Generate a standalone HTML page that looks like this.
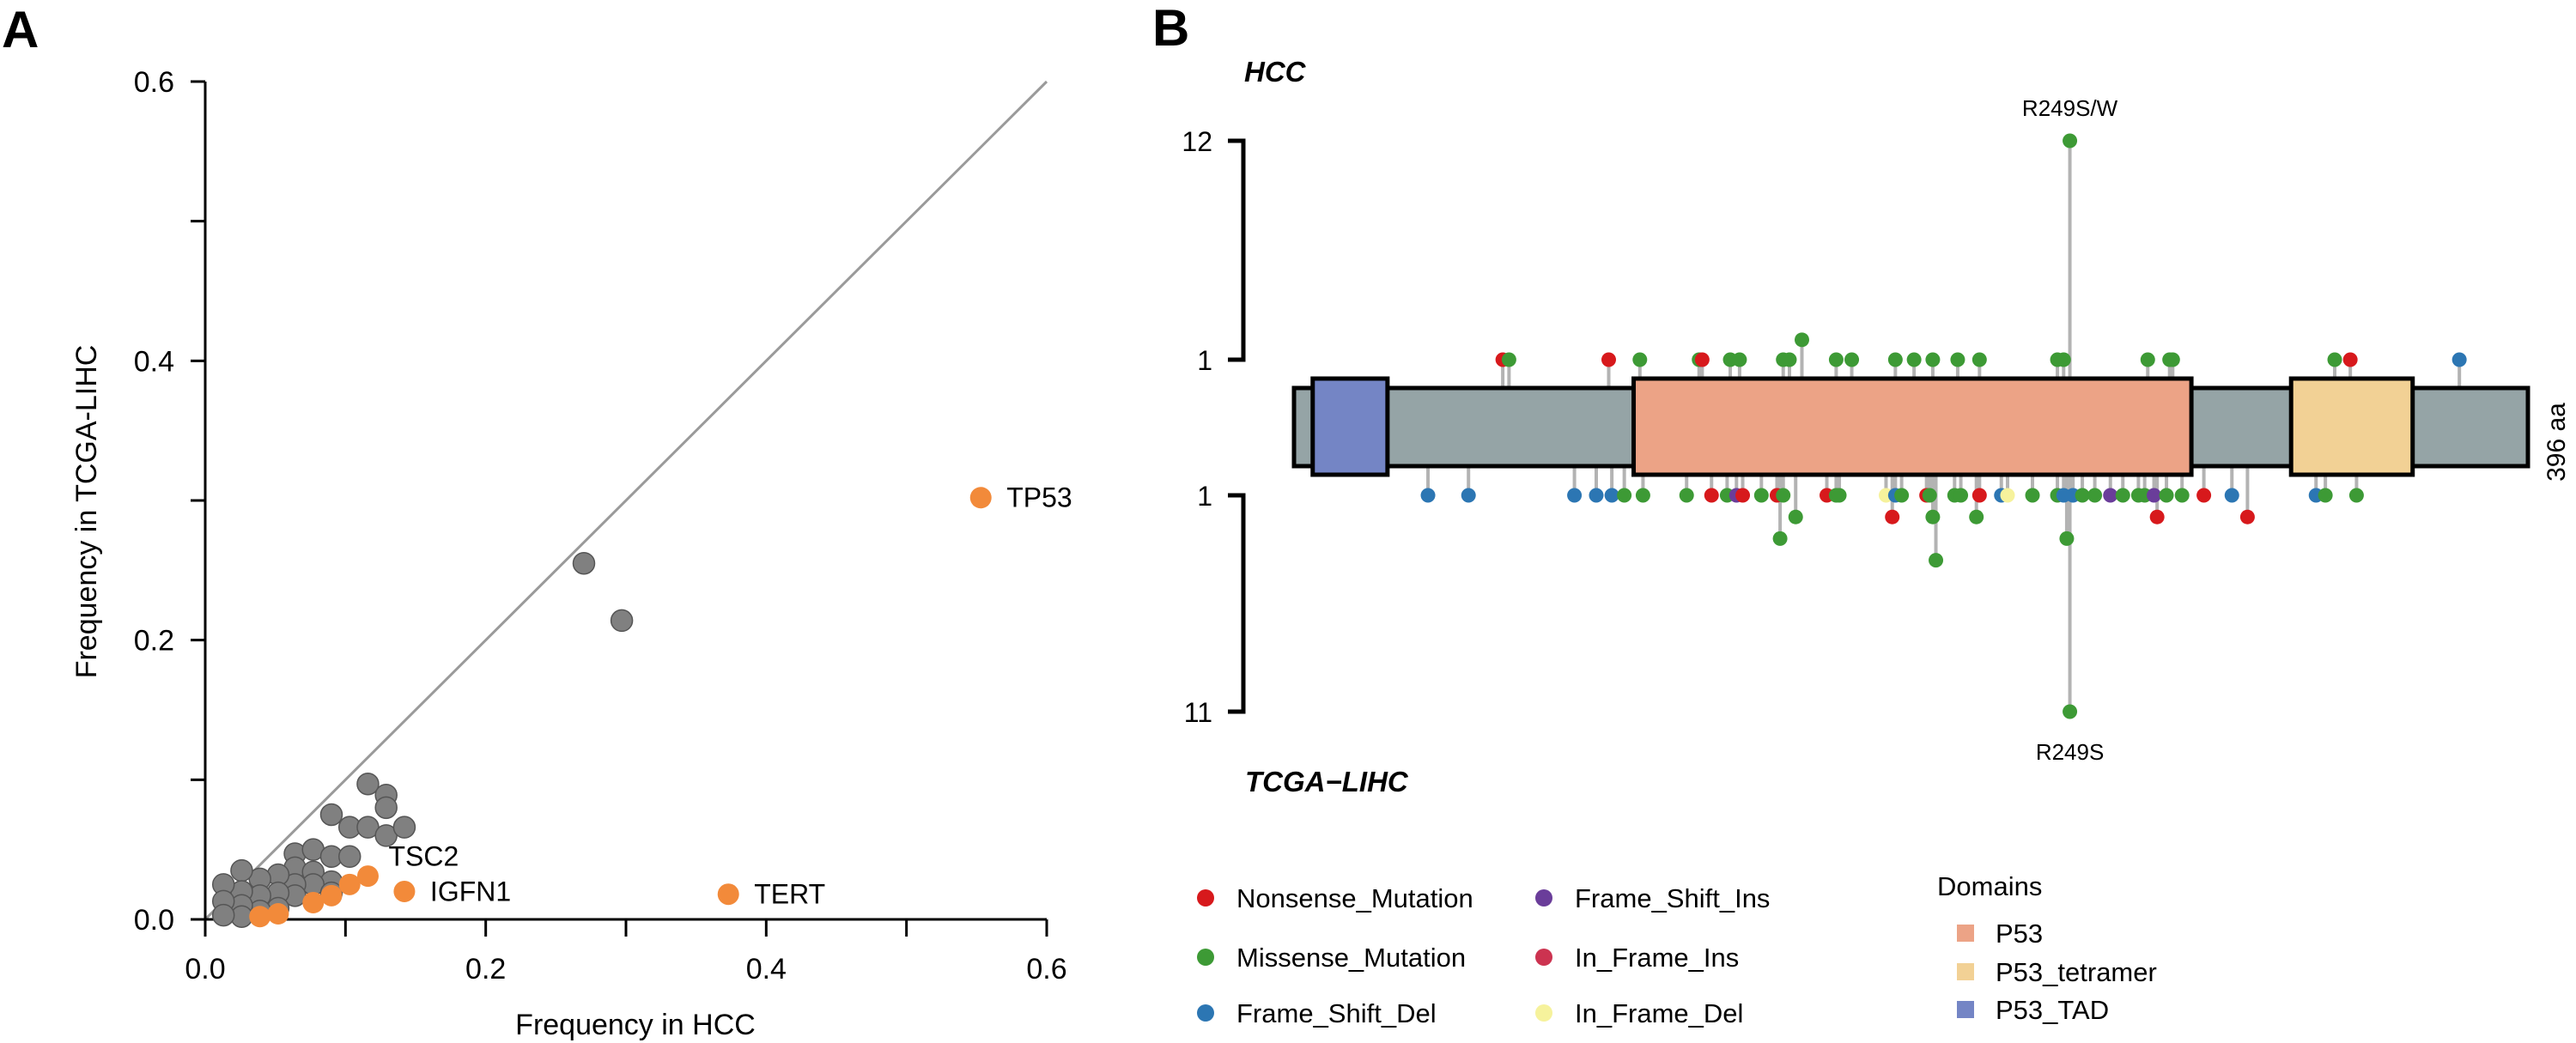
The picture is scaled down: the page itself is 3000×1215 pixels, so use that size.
<!DOCTYPE html>
<html><head><meta charset="utf-8">
<style>
html,body{margin:0;padding:0;background:#fff;}
svg{display:block;font-family:"Liberation Sans",Arial,sans-serif;}
</style></head>
<body>
<svg id="fig" width="3000" height="1215" viewBox="0 0 3000 1215" xmlns="http://www.w3.org/2000/svg">
<text x="2" y="55" font-size="60" font-weight="bold">A</text>
<text x="1342" y="53" font-size="60" font-weight="bold">B</text>
<g id="pa"></g>
<g id="pb"></g>
<g id="leg"></g>
</svg>
<script>
// ---------- Panel A data ----------
const grayX = [0.27,0.297,0.116,0.129,0.129,0.09,0.103,0.116,0.129,0.142,0.064,0.077,0.09,0.103,0.064,0.077,0.09,0.077,0.064,0.064,0.052,0.052,0.052,0.039,0.039,0.039,0.026,0.026,0.026,0.026,0.013,0.013,0.013,0.09];
const grayY = [0.255,0.214,0.097,0.089,0.08,0.075,0.066,0.066,0.06,0.066,0.047,0.05,0.045,0.045,0.037,0.034,0.027,0.025,0.025,0.017,0.032,0.019,0.008,0.029,0.017,0.006,0.035,0.02,0.01,0.002,0.025,0.013,0.003,0.019];
const orangeX = [0.553,0.373,0.142,0.116,0.103,0.09,0.077,0.052,0.039];
const orangeY = [0.302,0.018,0.02,0.031,0.025,0.017,0.012,0.004,0.002];
const orangeNames = ["TP53","TERT","IGFN1","TSC2","","","","",""];
const aTicks = [0,0.2,0.4,0.6];
const aTickLabels = ["0.0","0.2","0.4","0.6"];
const aMinor = [0.1,0.3,0.5];

// ---------- Panel B data ----------
const topPos   = [67,69,101,111,130,131,140,143,157,159,163,174,179,193,199,205,213,220,245,247,249,274,281,282,334,339,374];
const topCount = [1,1,1,1,1,1,1,1,1,1,2,1,1,1,1,1,1,1,1,1,12,1,1,1,1,1,1];
const topType  = ["N","M","N","M","M","N","M","M","M","M","M","M","M","M","M","M","M","M","M","M","M","M","M","M","M","N","D"];
const botPos   = [43,56,90,97,102,106,112,126,134,139,142,144,150,155,157,171,174,175,190,193,195,203,204,212,214,220,227,229,237,245,247,250,253,257,262,266,271,273,276,280,285,292,301,328,331,341,161,192,205,219,277,306,156,248,206,249];
const botCount = [1,1,1,1,1,1,1,1,1,1,1,1,1,1,1,1,1,1,1,1,1,1,1,1,1,1,1,1,1,1,1,1,1,1,1,1,1,1,1,1,1,1,1,1,1,1,2,2,2,2,2,2,3,3,4,11];
const botType  = ["D","D","D","D","D","M","M","M","N","M","P","N","M","N","M","N","M","M","Y","D","M","N","M","M","M","N","D","Y","M","M","D","D","M","M","P","M","M","M","P","M","M","N","D","D","M","M","M","N","M","M","N","N","M","M","M","M"];
const domStart = [6,109,320];
const domEnd   = [30,288,359];
const domName  = ["P53_TAD","P53","P53_tetramer"];
const protLen = 396;
const topTicks = [1,12];
const botTicks = [1,11];

const typeColor = {N:"#d7191c",M:"#3d9a35",D:"#2c76b3",P:"#6a3d9a",I:"#cc3350",Y:"#f6f29c"};
const domColor = {"P53_TAD":"#7485c5","P53":"#eca386","P53_tetramer":"#f2d195"};
const NS = "http://www.w3.org/2000/svg";
function mk(parent, tag, attrs){const e=document.createElementNS(NS,tag);for(const k in attrs)e.setAttribute(k,attrs[k]);parent.appendChild(e);return e;}

// ---------- Panel A ----------
const pa = document.getElementById('pa');
const ax0=239, ax1=1219, ay0=1071, ay1=95;
const xA = v => ax0 + v/0.6*(ax1-ax0);
const yA = v => ay0 - v/0.6*(ay0-ay1);
let e;
e = mk(pa,'line',{x1:xA(0),y1:yA(0),x2:xA(0.6),y2:yA(0.6),stroke:'#9a9a9a','stroke-width':3});
 
e = mk(pa,'line',{x1:ax0,y1:ay1,x2:ax0,y2:ay0,stroke:'#000','stroke-width':3});
 
e = mk(pa,'line',{x1:ax0,y1:ay0,x2:ax1,y2:ay0,stroke:'#000','stroke-width':3});
 
aTicks.concat(aMinor).forEach(v=>{
  e = mk(pa,'line',{x1:ax0-17,y1:yA(v),x2:ax0,y2:yA(v),stroke:'#000','stroke-width':3});
   
  e = mk(pa,'line',{x1:xA(v),y1:ay0,x2:xA(v),y2:ay0+20,stroke:'#000','stroke-width':3});
   
});
aTicks.forEach((v,i)=>{
  e = mk(pa,'text',{x:ax0-36,y:yA(v)+12,'font-size':34,'text-anchor':'end'}); e.textContent=aTickLabels[i];
   
  e = mk(pa,'text',{x:xA(v),y:ay0+69,'font-size':34,'text-anchor':'middle'}); e.textContent=aTickLabels[i];
   
});
e = mk(pa,'text',{x:740,y:1205,'font-size':34,'text-anchor':'middle'}); e.textContent='Frequency in HCC';
 
e = mk(pa,'text',{x:112,y:596,'font-size':34,'text-anchor':'middle',transform:'rotate(-90 112 596)'}); e.textContent='Frequency in TCGA-LIHC';
 
grayX.forEach((v,i)=>{
  e = mk(pa,'circle',{cx:xA(v),cy:yA(grayY[i]),r:12.5,fill:'#808080',stroke:'#555','stroke-width':1.5});
   
});
orangeX.forEach((v,i)=>{
  e = mk(pa,'circle',{cx:xA(v),cy:yA(orangeY[i]),r:12.5,fill:'#f28a3a'});
   
  if(orangeNames[i]){
    let dx = orangeNames[i]==='TSC2'? 24 : 30, dy = orangeNames[i]==='TSC2'? -12 : 11;
    e = mk(pa,'text',{x:xA(v)+dx,y:yA(orangeY[i])+dy,'font-size':32}); e.textContent=orangeNames[i];
     
  }
});

// ---------- Panel B ----------
const pb = document.getElementById('pb');
const bx0=1507, bx1=2944, bbTop=452, bbBot=543, boxTop=441, boxBot=553, bMid=497;
const xB = aa => bx0 + aa/protLen*(bx1-bx0);
const yTop = c => 419 - (c-1)/11*(419-164);
const yBot = c => 577 + (c-1)/10*(829-577);
[[yTop,topTicks],[yBot,botTicks]].forEach(([f,t],k)=>{
  e = mk(pb,'path',{d:`M1430 ${f(t[0])} H1448 V${f(t[1])} H1430`,fill:'none',stroke:'#000','stroke-width':5});
   
  t.forEach(v=>{
    e = mk(pb,'text',{x:1412,y:f(v)+12,'font-size':32,'text-anchor':'end'}); e.textContent=String(v);
     
  });
});
e = mk(pb,'text',{x:1449,y:95,'font-size':33,'font-weight':'bold','font-style':'italic'}); e.textContent='HCC';
 
e = mk(pb,'text',{x:1450,y:922,'font-size':33,'font-weight':'bold','font-style':'italic'}); e.textContent='TCGA\u2212LIHC';
 
topPos.forEach((p,i)=>{
  e = mk(pb,'line',{x1:xB(p),y1:bMid,x2:xB(p),y2:yTop(topCount[i]),stroke:'#b3b3b3','stroke-width':4});
   
});
botPos.forEach((p,i)=>{
  e = mk(pb,'line',{x1:xB(p),y1:bMid,x2:xB(p),y2:yBot(botCount[i]),stroke:'#b3b3b3','stroke-width':4});
   
});
e = mk(pb,'rect',{x:bx0,y:bbTop,width:bx1-bx0,height:bbBot-bbTop,fill:'#95a4a6',stroke:'#000','stroke-width':5});
 
domStart.forEach((s,i)=>{
  e = mk(pb,'rect',{x:xB(s),y:boxTop,width:xB(domEnd[i])-xB(s),height:boxBot-boxTop,fill:domColor[domName[i]],stroke:'#000','stroke-width':5});
   
});
topPos.forEach((p,i)=>{
  e = mk(pb,'circle',{cx:xB(p),cy:yTop(topCount[i]),r:8.5,fill:typeColor[topType[i]]});
   
});
botPos.forEach((p,i)=>{
  e = mk(pb,'circle',{cx:xB(p),cy:yBot(botCount[i]),r:8.5,fill:typeColor[botType[i]]});
   
});
e = mk(pb,'text',{x:xB(249),y:135,'font-size':26,'text-anchor':'middle'}); e.textContent='R249S/W';
 
e = mk(pb,'text',{x:xB(249),y:885,'font-size':26,'text-anchor':'middle'}); e.textContent='R249S';
 
e = mk(pb,'text',{x:2987,y:515,'font-size':30,'text-anchor':'middle',transform:'rotate(-90 2987 515)'}); e.textContent='396 aa';
 

// ---------- Legend ----------
const leg = document.getElementById('leg');
const legNames = ["Nonsense_Mutation","Missense_Mutation","Frame_Shift_Del","Frame_Shift_Ins","In_Frame_Ins","In_Frame_Del"];
const legKeys = ["N","M","D","P","I","Y"];
legNames.forEach((n,i)=>{
  const col = Math.floor(i/3), row = i%3;
  const cx = col? 1798:1404, cy = [1046,1115,1180][row];
  e = mk(leg,'circle',{cx:cx,cy:cy,r:10,fill:typeColor[legKeys[i]]});
   
  e = mk(leg,'text',{x:cx+36,y:cy+11,'font-size':31}); e.textContent=n;
   
});
e = mk(leg,'text',{x:2256,y:1043,'font-size':31}); e.textContent='Domains';
 
["P53","P53_tetramer","P53_TAD"].forEach((n,i)=>{
  const cy=[1087,1132,1176][i];
  e = mk(leg,'rect',{x:2279,y:cy-10,width:20,height:20,fill:domColor[n]});
   
  e = mk(leg,'text',{x:2324,y:cy+11,'font-size':31}); e.textContent=n;
   
});
</script>
</body></html>
